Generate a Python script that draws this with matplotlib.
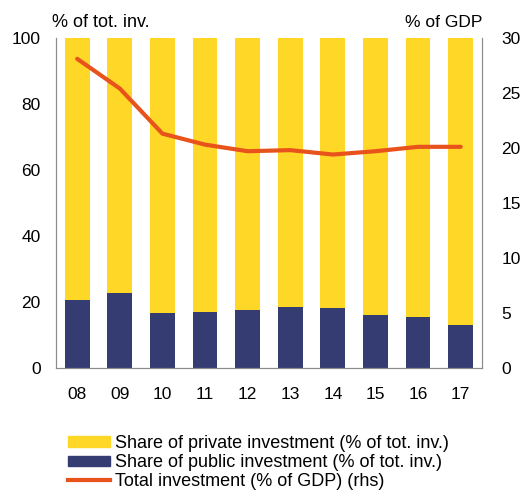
import matplotlib.pyplot as plt
import numpy as np
from matplotlib.patches import Patch
from matplotlib.lines import Line2D

plt.rcParams['font.family'] = ['Liberation Sans', 'DejaVu Sans']

years = ['08', '09', '10', '11', '12', '13', '14', '15', '16', '17']
public_share = [20.6, 22.6, 16.6, 17.1, 17.6, 18.6, 18.1, 16.1, 15.5, 13.0]
private_share = [100 - v for v in public_share]
total_inv_gdp = [28.1, 25.4, 21.3, 20.3, 19.7, 19.8, 19.4, 19.7, 20.1, 20.1]

yellow = '#FFD726'
navy = '#343C72'
orange = '#E8531C'
grey = '#8C8C8C'

fig = plt.figure(figsize=(5.32, 4.92), dpi=100)
ax = fig.add_axes([0.105, 0.252, 0.801, 0.671])
x = np.arange(len(years))
ax.bar(x, public_share, width=0.58, color=navy, zorder=2)
ax.bar(x, private_share, width=0.58, bottom=public_share, color=yellow, zorder=2)
ax.set_xlim(-0.5, len(years) - 0.5)
ax.set_ylim(0, 100)
ax.set_yticks(range(0, 101, 20))
ax.set_xticks(x)
ax.set_xticklabels(years)

ax2 = ax.twinx()
ax2.plot(x, total_inv_gdp, color=orange, lw=3, solid_capstyle='round', zorder=3)
ax2.set_ylim(0, 30)
ax2.set_yticks(range(0, 31, 5))

for a in (ax, ax2):
    a.spines['top'].set_visible(False)
    for s in ('left', 'right', 'bottom'):
        a.spines[s].set_color(grey)
    a.tick_params(length=0, labelsize=12.5, colors='black')
ax.tick_params(axis='x', pad=14)
ax.tick_params(axis='y', pad=11)
ax2.tick_params(axis='y', pad=14)

fig.text(0.098, 0.955, '% of tot. inv.', fontsize=13, ha='left', va='center')
fig.text(0.906, 0.955, '% of GDP', fontsize=12.5, ha='right', va='center')

handles = [Patch(color=yellow), Patch(color=navy), Line2D([], [], color=orange, lw=3)]
labels = ['Share of private investment (% of tot. inv.)',
          'Share of public investment (% of tot. inv.)',
          'Total investment (% of GDP) (rhs)']
fig.legend(handles, labels, loc='upper left', bbox_to_anchor=(0.128, 0.116),
           frameon=False, fontsize=13, handlelength=2.3, handleheight=0.5,
           handletextpad=0.3, labelspacing=0.12, borderaxespad=0, borderpad=0)

fig.savefig('out.png', dpi=100)
